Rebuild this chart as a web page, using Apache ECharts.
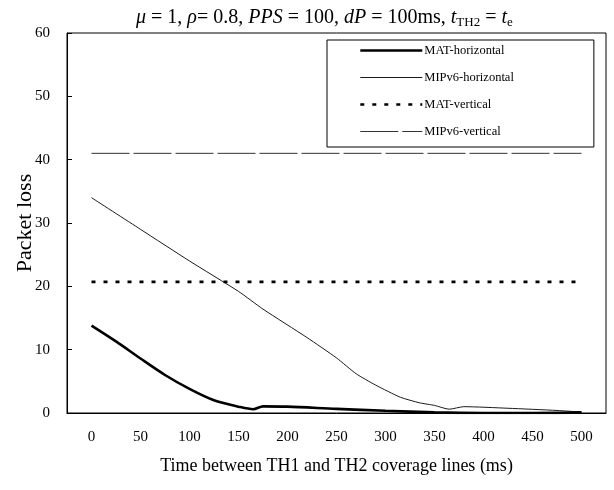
<!DOCTYPE html>
<html>
<head>
<meta charset="utf-8">
<script src="https://cdn.jsdelivr.net/npm/echarts@6/dist/echarts.min.js"></script>
<style>
  html, body { margin: 0; padding: 0; background: #fff; }
  #chart { width: 614px; height: 490px; }
</style>
</head>
<body>
<div id="chart"></div>
<script>
// x axis labels (ms)
const xLabels = ['0', '50', '100', '150', '200', '250', '300', '350', '400', '450', '500']

// MAT-horizontal
const matHorX = [0, 25, 50, 75, 100, 125, 150, 165, 175, 200, 250, 300, 350, 400, 450, 500]
const matHorY = [13.8, 11.3, 8.6, 6.0, 3.8, 2.0, 1.0, 0.6, 1.05, 1.0, 0.65, 0.35, 0.1, 0.0, 0.0, 0.1]

// MIPv6-horizontal
const mipHorX = [0, 50, 100, 150, 175, 220, 250, 270, 290, 315, 335, 350, 365, 380, 425, 475, 500]
const mipHorY = [34, 29, 24, 19.2, 16.4, 11.9, 8.7, 6.2, 4.4, 2.5, 1.6, 1.2, 0.6, 1.0, 0.75, 0.4, 0.15]

// the two vertical cases are flat
const flatX = [0, 500]
const matVerY = [20.7, 20.7]
const mipVerY = [41, 41]

const pairs = (xs, ys) => xs.map((x, i) => [x, ys[i]])

const SERIF = '"Liberation Serif", "DejaVu Serif", serif'

// line looks, shared by series and legend
const styles = {
    'MAT-horizontal': { color: '#000', width: 2.6, type: 'solid' },
    'MIPv6-horizontal': { color: '#000', width: 0.9, type: 'solid' },
    'MAT-vertical': { color: '#000', width: 2.6, type: [4, 8] },
    'MIPv6-vertical': { color: '#333', width: 1, type: [38, 4] }
}

var chartDom = document.getElementById('chart');
var myChart = echarts.init(chartDom);
let option = {
    animation: false,
    textStyle: { fontFamily: SERIF, color: '#000' },
    title: {
        left: 131,
        top: 1,
        text: '{i|μ} = 1, {i|ρ}= 0.8, {i|PPS} = 100, {i|dP} = 100ms, {i|t}{s|TH2} = {i|t}{s|e}',
        textStyle: {
            fontFamily: SERIF,
            fontWeight: 'normal',
            fontSize: 20,
            color: '#000',
            rich: {
                i: { fontFamily: SERIF, fontStyle: 'italic', fontSize: 20, color: '#000' },
                s: { fontFamily: SERIF, fontSize: 13, color: '#000', padding: [10, 0, 0, 0] }
            }
        }
    },
    legend: {
        orient: 'vertical',
        left: 327,
        top: 40,
        padding: [4, 80, 9, 32],
        itemGap: 14,
        itemWidth: 62,
        itemHeight: 12,
        borderColor: '#000',
        borderWidth: 1,
        itemStyle: { opacity: 0 },
        textStyle: { fontFamily: SERIF, fontSize: 12.5, color: '#000', padding: [0, 0, 0, -3] },
        data: Object.keys(styles).map(name => ({ name, lineStyle: styles[name] }))
    },
    grid: {
        left: 67,
        right: 8,
        top: 33,
        bottom: 77,
        outerBoundsMode: 'none',
        containLabel: false,
        show: true,
        borderColor: '#000',
        borderWidth: 1
    },
    xAxis: [{
        type: 'category',
        data: xLabels,
        boundaryGap: true,
        name: 'Time between TH1 and TH2 coverage lines (ms)',
        nameLocation: 'middle',
        nameGap: 44,
        nameMoveOverlap: false,
        nameTextStyle: { fontFamily: SERIF, fontSize: 18, color: '#000' },
        axisLine: { lineStyle: { color: '#000', width: 1 } },
        axisTick: { inside: true, length: 5, lineStyle: { color: '#000' } },
        axisLabel: { fontFamily: SERIF, fontSize: 15, color: '#000', margin: 17 }
    }, {
        // hidden value scale the curves are drawn on
        type: 'value',
        min: -25,
        max: 525,
        show: false
    }],
    yAxis: {
        type: 'value',
        min: 0,
        max: 60,
        interval: 10,
        name: 'Packet loss',
        nameLocation: 'middle',
        nameGap: 31,
        nameMoveOverlap: false,
        nameTextStyle: { fontFamily: SERIF, fontSize: 22, color: '#000' },
        axisLine: { show: true, onZero: false, lineStyle: { color: '#000', width: 1 } },
        axisTick: { show: true, inside: true, length: 5, lineStyle: { color: '#000' } },
        splitLine: { show: false },
        axisLabel: { fontFamily: SERIF, fontSize: 15, color: '#000', margin: 17 }
    },
    series: [{
        name: 'MAT-horizontal',
        type: 'line',
        xAxisIndex: 1,
        smooth: 0.3,
        symbol: 'none',
        lineStyle: styles['MAT-horizontal'],
        itemStyle: { color: '#000' },
        data: pairs(matHorX, matHorY)
    }, {
        name: 'MIPv6-horizontal',
        type: 'line',
        xAxisIndex: 1,
        smooth: 0.2,
        symbol: 'none',
        lineStyle: styles['MIPv6-horizontal'],
        itemStyle: { color: '#000' },
        data: pairs(mipHorX, mipHorY)
    }, {
        name: 'MAT-vertical',
        type: 'line',
        xAxisIndex: 1,
        symbol: 'none',
        lineStyle: styles['MAT-vertical'],
        itemStyle: { color: '#000' },
        data: pairs(flatX, matVerY)
    }, {
        name: 'MIPv6-vertical',
        type: 'line',
        xAxisIndex: 1,
        symbol: 'none',
        lineStyle: styles['MIPv6-vertical'],
        itemStyle: { color: '#333' },
        data: pairs(flatX, mipVerY)
    }]
}
option && myChart.setOption(option);
window.addEventListener("resize", () => {
    myChart.resize();
})
</script>
</body>
</html>
